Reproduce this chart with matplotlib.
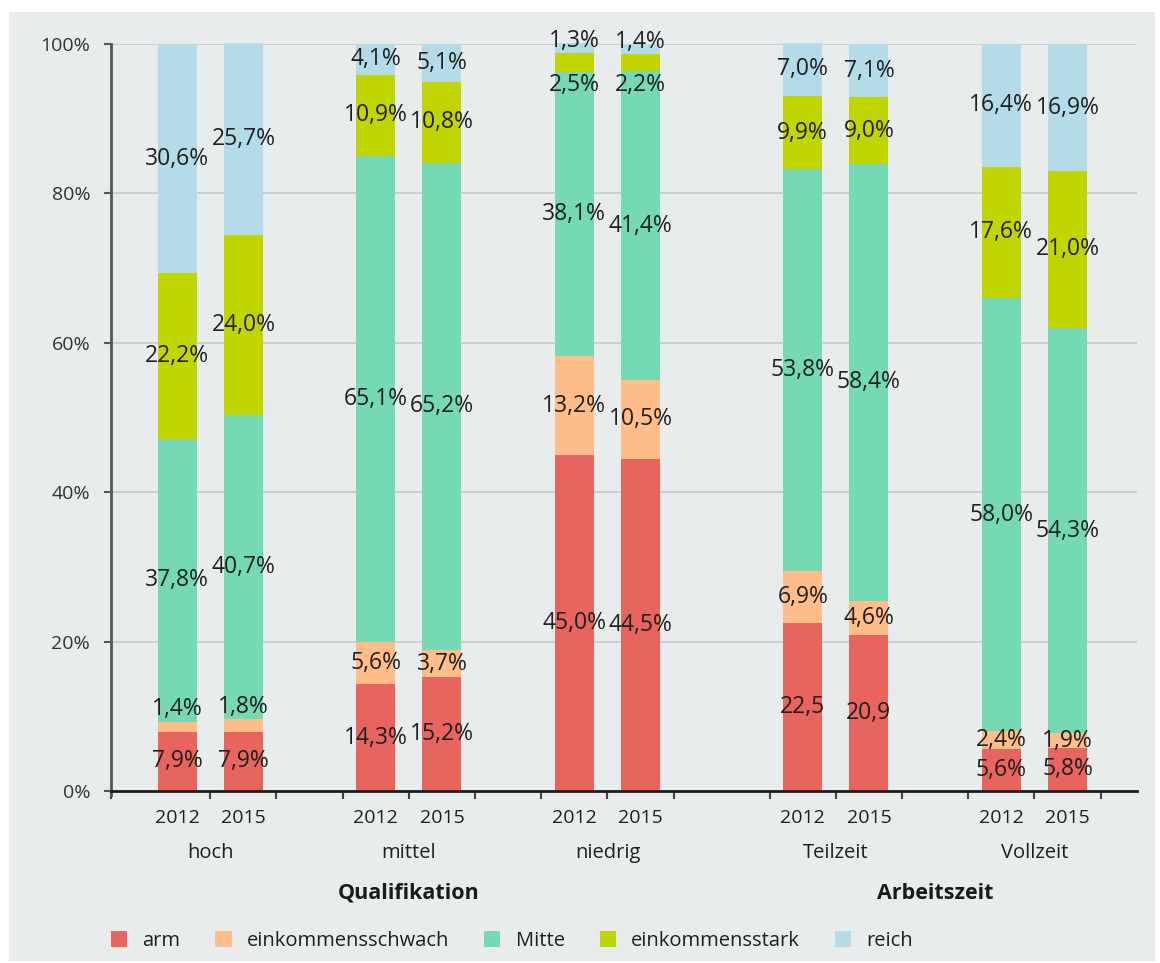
import matplotlib
matplotlib.use("Agg")
import matplotlib.pyplot as plt
from matplotlib.patches import Rectangle, Patch
from matplotlib.ticker import FixedLocator, NullFormatter

plt.rcParams["font.family"] = ["Open Sans", "DejaVu Sans"]

# --- data -----------------------------------------------------------------
groups = ["hoch", "mittel", "niedrig", "Teilzeit", "Vollzeit"]
years = ["2012", "2015"]
sections = ["Qualifikation", "Arbeitszeit"]
series = ["arm", "einkommensschwach", "Mitte", "einkommensstark", "reich"]

arm = [7.9, 7.9, 14.3, 15.2, 45.0, 44.5, 22.5, 20.9, 5.6, 5.8]
einkommensschwach = [1.4, 1.8, 5.6, 3.7, 13.2, 10.5, 6.9, 4.6, 2.4, 1.9]
mitte = [37.8, 40.7, 65.1, 65.2, 38.1, 41.4, 53.8, 58.4, 58.0, 54.3]
einkommensstark = [22.2, 24.0, 10.9, 10.8, 2.5, 2.2, 9.9, 9.0, 17.6, 21.0]
reich = [30.6, 25.7, 4.1, 5.1, 1.3, 1.4, 7.0, 7.1, 16.4, 16.9]

values = [arm, einkommensschwach, mitte, einkommensstark, reich]
colors = ["#e8645e", "#ffbd8a", "#75d9b4", "#c1d600", "#b3dbe8"]

# --- layout ---------------------------------------------------------------
W, H = 1160, 963
fig = plt.figure(figsize=(W / 100, H / 100), dpi=100, facecolor="white")
bg = "#e8ecec"
fig.patches.append(Rectangle((9 / W, 1 - 961 / H), 1146 / W, 949 / H,
                             transform=fig.transFigure, facecolor=bg,
                             edgecolor="none", zorder=-10))

ax = fig.add_axes([111 / W, 1 - 791 / H, 1026 / W, 747 / H])
ax.set_facecolor("none")

group_centers = [1.5, 4.5, 7.5, 10.95, 13.95]
section_centers = [4.5, 12.45]
bar_x = []
for c in group_centers:
    bar_x += [c - 0.5, c + 0.5]
bar_w = 0.59

# labels that sit off-centre so they do not collide (points)
label_shift = {(1, 0): 13, (1, 1): 13, (4, 4): 5, (4, 5): 5,
               (3, 4): -16, (3, 5): -16}
# the two part-time "arm" labels carry no percent sign
no_pct = {(0, 6), (0, 7)}

txt_color = "#1f1f1f"
bottoms = [0.0] * len(bar_x)
for si, (name, vals, col) in enumerate(zip(series, values, colors)):
    ax.bar(bar_x, vals, width=bar_w, bottom=bottoms, color=col,
           label=name, zorder=2, clip_on=False)
    for i, (x, v) in enumerate(zip(bar_x, vals)):
        txt = f"{v:.1f}".replace(".", ",")
        if (si, i) not in no_pct:
            txt += "%"
        ax.annotate(txt, (x, bottoms[i] + v / 2),
                    xytext=(0, label_shift.get((si, i), 0)),
                    textcoords="offset points", ha="center", va="center",
                    fontsize=16.5, color=txt_color, zorder=5,
                    annotation_clip=False)
    bottoms = [b + v for b, v in zip(bottoms, vals)]

ax.set_xlim(0, 15.5)
ax.set_ylim(0, 100)

# y axis
ax.set_yticks(range(0, 101, 20))
ax.set_yticklabels([f"{t}%" for t in range(0, 101, 20)], fontsize=14,
                   color="#333333")
ax.tick_params(axis="y", length=5, width=1.5, color="#555555", pad=10)
ax.yaxis.grid(True, color="#c5cccc", linewidth=1.3, zorder=0)
ax.set_axisbelow(True)

# x axis: boundary ticks as major ticks, years as minor tick labels
bounds = [0.0]
for gi, c in enumerate(group_centers):
    if gi > 0:
        bounds.append(c - 1)
    bounds += [c, c + 1]
ax.xaxis.set_major_locator(FixedLocator(bounds))
ax.xaxis.set_major_formatter(NullFormatter())
ax.tick_params(axis="x", which="major", length=6, width=1.5, color="#444444")
ax.xaxis.set_minor_locator(FixedLocator(bar_x))
ax.set_xticklabels(years * len(groups), minor=True, fontsize=14,
                   color=txt_color)
ax.tick_params(axis="x", which="minor", length=0, pad=13)

for s in ["top", "right"]:
    ax.spines[s].set_visible(False)
ax.spines["bottom"].set_color("#1e1e1e")
ax.spines["bottom"].set_linewidth(2)
ax.spines["left"].set_color("#555555")
ax.spines["left"].set_linewidth(2)
ax.spines["left"].set_bounds(-0.6, 100)

xt = ax.get_xaxis_transform()
for c, g in zip(group_centers, groups):
    ax.text(c, (791 - 853) / 747, g, transform=xt, ha="center", va="center",
            fontsize=14.5, color=txt_color)
for c, s in zip(section_centers, sections):
    ax.text(c, (791 - 893) / 747, s, transform=xt, ha="center", va="center",
            fontsize=15.5, fontweight="bold", color="#1a1a1a")

handles = [Patch(facecolor=c, edgecolor="none") for c in colors]
fig.legend(handles, series, loc="center left",
           bbox_to_anchor=(111 / W, 1 - 941 / H), ncol=5, frameon=False,
           fontsize=14.5, handlelength=0.8, handleheight=0.8,
           handletextpad=0.75, columnspacing=1.75, borderpad=0,
           borderaxespad=0, labelcolor=txt_color)

fig.savefig("out.png", dpi=100, facecolor="white")
